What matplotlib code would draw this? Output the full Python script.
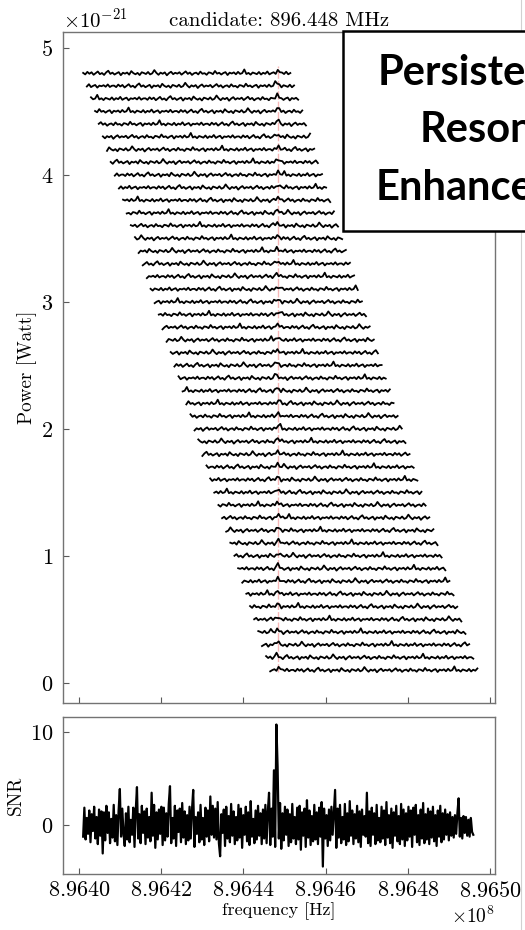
import numpy as np
import matplotlib
matplotlib.use('Agg')
import matplotlib.pyplot as plt
from matplotlib.patches import Rectangle
from matplotlib.lines import Line2D

plt.rcParams['font.family'] = 'serif'
plt.rcParams['font.serif'] = ['cmr10']
plt.rcParams['mathtext.fontset'] = 'cm'
plt.rcParams['axes.formatter.use_mathtext'] = True

# 频率基准 (Hz) 和候选频率
f_base = 896.400e6
cand_khz = 48.3
title = 'candidate: 896.448 MHz'

# 每条功率曲线的基线 (1e-21 W), 从上到下
trace_offsets = [4.8, 4.7, 4.6, 4.5, 4.4, 4.3, 4.2, 4.1, 4.0, 3.9, 3.8, 3.7,
                 3.6, 3.5, 3.4, 3.3, 3.2, 3.1, 3.0, 2.9, 2.8, 2.7, 2.6, 2.5,
                 2.4, 2.3, 2.2, 2.1, 2.0, 1.9, 1.8, 1.7, 1.6, 1.5, 1.4, 1.3,
                 1.2, 1.1, 1.0, 0.9, 0.8, 0.7, 0.6, 0.5, 0.4, 0.3, 0.2, 0.1]
# 每条曲线起始频率 (kHz, 相对 f_base)
trace_start_khz = [1.0, 1.9, 2.9, 3.9, 4.8, 5.8, 6.8, 7.7, 8.7, 9.7, 10.7, 11.6,
                   12.6, 13.6, 14.5, 15.5, 16.5, 17.4, 18.4, 19.4, 20.3, 21.3, 22.3, 23.2,
                   24.2, 25.2, 26.1, 27.1, 28.1, 29.0, 30.0, 31.0, 31.9, 32.9, 33.9, 34.8,
                   35.8, 36.8, 37.8, 38.7, 39.7, 40.7, 41.6, 42.6, 43.6, 44.5, 45.5, 46.5]
trace_span_khz = 50.4

# 曲线起伏 (1e-23 W)
wiggle = [0.4, -0.8, 1.2, -0.3, 0.9, -1.1, 0.2, 1.5, -0.6, 0.3, -1.2, 0.8, 2.1, -0.4, 0.6, -0.9, 0.1, 1.0, -1.4, 0.5,
          -0.2, 0.7, -1.0, 1.8, 0.2, -0.7, 0.4, -1.3, 0.9, 0.3, -0.5, 1.1, -0.8, 0.0, 2.6, 0.4, -1.1, 0.6, -0.3, 0.8,
          -1.5, 0.2, 1.3, -0.6, 0.5, -0.2, 0.9, -1.0, 0.3, 1.6, -0.4, 0.7, -1.2, 0.1, 0.6, -0.8, 1.4, -0.3, 0.2, -1.1,
          0.8, 0.4, -0.6, 1.9, -0.2, 0.5, -0.9, 0.3, 1.0, -1.3, 0.6, -0.1, 0.8, -0.7, 1.2, -0.4, 0.2, 3.1, -0.5, 0.4,
          -1.0, 0.7, 0.1, -0.6, 1.1, -0.9, 0.5, -0.3, 1.5, -0.8, 0.2, 0.9, -1.2, 0.4, -0.1, 0.7, -0.5, 1.3, -0.7, 0.3]
cand_bump = [0.8, 2.4, 1.0]

# SNR 曲线
snr_start_khz = 1.0
snr_stop_khz = 95.9
snr = [-1.2, 1.9, -1.5, 0.8, -0.9, 1.6, -1.8, 1.2, -0.6, 2.0, -1.4, 0.9, -2.0, 1.7, -1.1, 1.5, -3.0, 1.4, -1.6, 2.1,
       -0.8, 1.4, -1.9, 0.7, -1.3, 2.2, -1.7, 1.1, -2.1, 1.6, 3.9, -1.2, 1.8, -0.9, -2.2, 1.3, -1.5, 2.0, -1.8, 0.6,
       -1.0, 1.9, -2.3, 1.6, 4.1, -1.4, 1.2, -1.9, 2.1, -0.8, 1.5, -2.0, 1.8, -1.3, 0.9, -1.7, 3.5, -1.1, 2.2, -2.4,
       1.4, -1.5, 1.7, -0.9, 2.0, -2.1, 1.9, -1.6, 1.3, -1.2, 2.3, 4.2, -1.9, 0.8, -1.4, 2.1, -2.2, 1.6, -0.7, 1.8,
       -1.8, 2.4, -1.3, 1.5, -2.0, 1.1, -1.6, 2.0, -1.4, 1.7, 3.8, -2.3, 0.9, -0.9, 1.4, -1.8, 2.2, -1.5, 0.8, -2.1,
       1.9, -1.2, 1.6, -1.7, 3.1, -1.0, 2.1, -1.3, 1.8, -1.5, 2.5, -1.9, -3.3, 1.2, -0.8, 1.7, -2.2, 2.0, -1.4, 1.0,
       -1.8, 2.3, -1.1, 1.5, -2.0, 0.9, -1.6, 2.2, -1.3, 1.8, -2.4, 1.1, -1.0, 2.0, -1.7, 1.4, -2.1, 2.6, -1.2, 0.7,
       -1.9, 1.6, -1.5, 2.1, -1.1, 1.3, -2.0, 1.7, -1.4, 2.2, -1.9, 1.5, 3.5, -2.1, 1.8, -1.2, 5.9, -2.3, 10.8, 6.3,
       -1.4, 2.4, -2.5, 1.3, -1.6, 2.0, -1.0, 1.7, -2.2, 1.2, -1.8, 2.3, -1.4, 0.9, -2.0, 1.9, -1.5, 2.1, -2.6, 1.4,
       -1.1, 1.8, -2.3, 2.7, -1.3, 1.6, -2.1, 1.0, -1.7, 2.2, -1.5, 1.4, -2.0, 1.9, -1.2, 2.5, -4.4, 1.8, -1.4, 1.1,
       -2.2, 1.7, -1.6, 2.0, -1.0, 1.5, 3.8, -2.4, 1.8, -1.3, 2.2, -1.9, 0.9, -1.5, 2.3, -2.1, 1.3, -1.7, 2.6, -1.1,
       1.6, -2.0, 1.2, -1.4, 2.1, -1.8, 1.5, -2.3, 1.7, -1.0, 1.0, -1.2, 3.5, -1.9, 1.5, -2.2, 1.9, -1.0, 1.3, -2.0,
       2.2, -1.6, 0.8, -1.8, 2.0, -1.4, 1.6, -2.1, 2.5, -1.3, 1.1, -1.9, 1.8, -2.4, 1.4, -1.1, 2.1, -1.7, 1.0, -2.0,
       2.3, -1.5, 1.7, -2.2, 1.3, -1.6, 2.0, -1.2, 1.6, -2.3, 1.9, -1.0, 2.2, -1.8, 1.1, -2.1, 1.7, -1.4, 2.4, -1.9,
       1.2, -1.5, 1.8, -2.0, 1.5, -1.3, 2.0, -1.7, 1.1, -2.2, 1.6, -1.2, 2.1, -1.8, 1.3, -1.5, 1.7, -1.0, 1.2, -1.6,
       1.4, -1.1, 0.9, -1.3, 1.1, -0.9, 1.3, 2.9, -1.2, 0.8, -1.4, 1.0, -0.8, 0.9, -1.1, 0.6, -1.2, 0.8, -0.7, -1.0]

xticks_khz = [0, 20, 40, 60, 80, 100]
xlim_khz = (-3.9, 101.2)

fig = plt.figure(figsize=(5.25, 9.3), dpi=100)
ax1 = fig.add_axes([0.120, 0.2441, 0.823, 0.7215])
ax2 = fig.add_axes([0.120, 0.0602, 0.823, 0.1688])

# 上图: 堆叠的功率谱
n = len(wiggle)
for k, (off, start) in enumerate(zip(trace_offsets, trace_start_khz)):
    f_khz = start + np.linspace(0, trace_span_khz, n)
    w = np.roll(np.array(wiggle), 13 * k)
    i = int(np.argmin(np.abs(f_khz - cand_khz)))
    for j, b in enumerate(cand_bump):
        if 0 <= i - 1 + j < n:
            w[i - 1 + j] += b
    p = off * 1e-21 + w * 1e-23
    ax1.plot(f_base + f_khz * 1e3, p, color='black', lw=1.3, zorder=3)

ax1.vlines(f_base + cand_khz * 1e3, 0.09e-21, 4.86e-21, color='#f08888',
           lw=1.0, alpha=0.6, linestyles=(0, (6, 1.5)), zorder=2)

ax1.set_xlim(f_base + xlim_khz[0] * 1e3, f_base + xlim_khz[1] * 1e3)
ax1.set_ylim(-0.157e-21, 5.126e-21)
ax1.set_xticks([f_base + t * 1e3 for t in xticks_khz])
ax1.set_yticks([v * 1e-21 for v in [0, 1, 2, 3, 4, 5]])
ax1.ticklabel_format(axis='y', style='sci', scilimits=(0, 0))
ax1.tick_params(axis='x', labelbottom=False)
ax1.set_ylabel('Power [Watt]', fontsize=13.8)
ax1.yaxis.set_label_coords(-0.060, 0.5)
ax1.set_title(title, fontsize=15, pad=4)

# 下图: SNR
snr_f = np.linspace(snr_start_khz, snr_stop_khz, len(snr))
ax2.plot(f_base + snr_f * 1e3, snr, color='black', lw=1.6)
ax2.set_xlim(f_base + xlim_khz[0] * 1e3, f_base + xlim_khz[1] * 1e3)
ax2.set_ylim(-5.2, 11.6)
ax2.set_xticks([f_base + t * 1e3 for t in xticks_khz])
ax2.set_yticks([0, 10])
ax2.ticklabel_format(axis='x', style='sci', scilimits=(0, 0), useOffset=False)
ax2.set_ylabel('SNR', fontsize=13.8)
ax2.yaxis.set_label_coords(-0.088, 0.5)
ax2.set_xlabel('frequency [Hz]', fontsize=13, labelpad=1)

for ax in (ax1, ax2):
    ax.tick_params(direction='in', length=4, width=0.8, color='0.35',
                   labelsize=16, pad=7)
    for s in ax.spines.values():
        s.set_color('0.45')
        s.set_linewidth(1.0)
    ax.yaxis.get_offset_text().set_fontsize(15)
ax2.tick_params(axis='x', pad=5)
ax2.xaxis.get_offset_text().set_fontsize(14)

# 右侧覆盖的文字框
fig.add_artist(Line2D([521 / 525, 521 / 525], [0, 1], transform=fig.transFigure,
                      color='0.82', lw=0.8))
fig.add_artist(Rectangle((343 / 525, 1 - 231 / 930), 0.5, 200 / 930,
                         transform=fig.transFigure, facecolor='white',
                         edgecolor='black', lw=1.8, zorder=10))
box_lines = [('Persistent', 378, 85), ('Resonance', 420, 142), ('Enhancement', 376, 200)]
for txt, px, py in box_lines:
    fig.text(px / 525, 1 - py / 930, txt, family='Lato', weight='bold',
             fontsize=30, ha='left', va='baseline', zorder=11)

fig.savefig('out.png', dpi=100)
